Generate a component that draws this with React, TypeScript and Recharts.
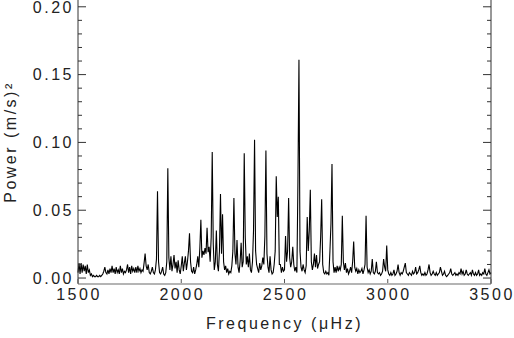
import { LineChart, Line, XAxis, YAxis } from "recharts";

// power spectrum, (m/s)^2, one reading every 5 µHz starting at 1500 µHz
const FREQ_START = 1500;
const FREQ_STEP = 5;

const p1500 = [0.004, 0.011, 0.003, 0.011, 0.004, 0.010, 0.005, 0.009, 0.003, 0.010, 0.004, 0.006, 0.002, 0.003, 0.001, 0.002, 0.001, 0.001, 0.002, 0.001];
const p1600 = [0.001, 0.002, 0.001, 0.002, 0.003, 0.005, 0.008, 0.004, 0.003, 0.006, 0.003, 0.007, 0.004, 0.009, 0.004, 0.007, 0.003, 0.008, 0.004, 0.006];
const p1700 = [0.003, 0.009, 0.004, 0.007, 0.003, 0.005, 0.004, 0.006, 0.010, 0.004, 0.008, 0.003, 0.009, 0.005, 0.007, 0.004, 0.008, 0.004, 0.009, 0.005];
const p1800 = [0.007, 0.004, 0.006, 0.005, 0.011, 0.018, 0.009, 0.006, 0.010, 0.004, 0.003, 0.005, 0.008, 0.004, 0.003, 0.006, 0.014, 0.064, 0.012, 0.004];
const p1900 = [0.003, 0.005, 0.008, 0.003, 0.002, 0.004, 0.012, 0.081, 0.015, 0.006, 0.016, 0.005, 0.010, 0.017, 0.007, 0.012, 0.004, 0.013, 0.006, 0.003];
const p2000 = [0.009, 0.016, 0.005, 0.011, 0.016, 0.006, 0.012, 0.020, 0.033, 0.012, 0.005, 0.004, 0.008, 0.003, 0.006, 0.010, 0.016, 0.008, 0.022, 0.043];
const p2100 = [0.015, 0.020, 0.017, 0.022, 0.018, 0.037, 0.019, 0.023, 0.012, 0.030, 0.093, 0.025, 0.006, 0.012, 0.035, 0.010, 0.005, 0.020, 0.062, 0.018];
const p2200 = [0.047, 0.012, 0.006, 0.009, 0.004, 0.007, 0.003, 0.005, 0.004, 0.009, 0.020, 0.059, 0.018, 0.010, 0.028, 0.008, 0.004, 0.012, 0.026, 0.008];
const p2300 = [0.012, 0.092, 0.030, 0.010, 0.016, 0.008, 0.018, 0.006, 0.004, 0.012, 0.035, 0.102, 0.020, 0.010, 0.007, 0.004, 0.011, 0.006, 0.009, 0.015];
const p2400 = [0.010, 0.031, 0.094, 0.018, 0.008, 0.004, 0.016, 0.006, 0.003, 0.004, 0.010, 0.020, 0.075, 0.045, 0.060, 0.010, 0.010, 0.004, 0.008, 0.005];
const p2500 = [0.006, 0.031, 0.012, 0.020, 0.059, 0.015, 0.008, 0.012, 0.023, 0.010, 0.005, 0.008, 0.004, 0.070, 0.161, 0.020, 0.008, 0.005, 0.010, 0.006];
const p2600 = [0.004, 0.009, 0.045, 0.020, 0.035, 0.065, 0.012, 0.006, 0.010, 0.018, 0.008, 0.017, 0.007, 0.010, 0.012, 0.030, 0.058, 0.010, 0.004, 0.003];
const p2700 = [0.005, 0.003, 0.004, 0.002, 0.020, 0.040, 0.084, 0.012, 0.004, 0.008, 0.004, 0.009, 0.005, 0.008, 0.006, 0.010, 0.046, 0.012, 0.006, 0.011];
const p2800 = [0.004, 0.007, 0.003, 0.005, 0.008, 0.004, 0.012, 0.027, 0.008, 0.005, 0.007, 0.003, 0.006, 0.004, 0.005, 0.007, 0.003, 0.006, 0.010, 0.046];
const p2900 = [0.008, 0.004, 0.006, 0.003, 0.005, 0.014, 0.004, 0.003, 0.005, 0.012, 0.004, 0.003, 0.004, 0.002, 0.003, 0.005, 0.014, 0.008, 0.005, 0.024];
const p3000 = [0.006, 0.003, 0.002, 0.004, 0.002, 0.003, 0.006, 0.002, 0.003, 0.005, 0.010, 0.004, 0.002, 0.004, 0.003, 0.005, 0.008, 0.011, 0.004, 0.003];
const p3100 = [0.002, 0.004, 0.003, 0.002, 0.005, 0.003, 0.004, 0.008, 0.003, 0.004, 0.006, 0.009, 0.004, 0.002, 0.003, 0.002, 0.004, 0.002, 0.003, 0.006];
const p3200 = [0.010, 0.004, 0.002, 0.003, 0.005, 0.003, 0.002, 0.004, 0.002, 0.003, 0.004, 0.008, 0.005, 0.002, 0.003, 0.005, 0.002, 0.001, 0.002, 0.003];
const p3300 = [0.004, 0.007, 0.003, 0.002, 0.003, 0.004, 0.002, 0.003, 0.002, 0.004, 0.003, 0.007, 0.003, 0.005, 0.002, 0.003, 0.006, 0.003, 0.002, 0.003];
const p3400 = [0.004, 0.002, 0.006, 0.003, 0.002, 0.004, 0.002, 0.003, 0.006, 0.002, 0.003, 0.002, 0.004, 0.003, 0.007, 0.003, 0.002, 0.004, 0.006, 0.003, 0.004];

const xTicks = [1500, 2000, 2500, 3000, 3500];
const yTicks = [0, 0.01, 0.02, 0.03, 0.04, 0.05, 0.06, 0.07, 0.08, 0.09, 0.1, 0.11, 0.12, 0.13, 0.14, 0.15, 0.16, 0.17, 0.18, 0.19, 0.2];
const yDomain = [-0.0044, 0.205];

const power = [
  ...p1500, ...p1600, ...p1700, ...p1800, ...p1900,
  ...p2000, ...p2100, ...p2200, ...p2300, ...p2400,
  ...p2500, ...p2600, ...p2700, ...p2800, ...p2900,
  ...p3000, ...p3100, ...p3200, ...p3300, ...p3400,
];
const data = power.map((p, i) => ({ freq: FREQ_START + i * FREQ_STEP, p }));

const FONT = "'Liberation Sans', Arial, Helvetica, sans-serif";
const TEXT = "#222";

const isMajor = (v: number) => Math.abs(v * 20 - Math.round(v * 20)) < 1e-6;

function LeftTick({ x, y, payload }: any) {
  const major = isMajor(payload.value);
  return (
    <g>
      <line x1={x} x2={x + (major ? 8 : 4)} y1={y} y2={y} stroke="#333" />
      {major && (
        <text x={x - 4} y={y} dy="0.36em" textAnchor="end" fontSize={16} letterSpacing={2.5} fill={TEXT} fontFamily={FONT}>
          {payload.value.toFixed(2)}
        </text>
      )}
    </g>
  );
}

function RightTick({ x, y, payload }: any) {
  const major = isMajor(payload.value);
  return <line x1={x} x2={x - (major ? 8 : 4)} y1={y} y2={y} stroke="#333" />;
}

function BottomTick({ x, y, payload }: any) {
  return (
    <g>
      <line x1={x} x2={x} y1={y - 1} y2={y - 5} stroke="#555" />
      <text x={x + 1} y={y + 10} dy="0.36em" textAnchor="middle" fontSize={16} letterSpacing={2.5} fill={TEXT} fontFamily={FONT}>
        {payload.value}
      </text>
    </g>
  );
}

export default function App() {
  return (
    <div style={{ position: "absolute", left: 0, top: 0, width: 514, height: 338, background: "#fff" }}>
      <LineChart width={514} height={338} data={data} margin={{ top: 0, right: 0, bottom: 0, left: 0 }}>
        <XAxis
          dataKey="freq"
          type="number"
          domain={[1500, 3500]}
          ticks={xTicks}
          height={54}
          tickSize={0}
          tickMargin={0}
          tickLine={false}
          axisLine={{ stroke: "#b4b4b4", strokeWidth: 2 }}
          tick={<BottomTick />}
          interval={0}
        />
        <YAxis
          yAxisId="left"
          type="number"
          domain={yDomain}
          allowDataOverflow
          ticks={yTicks}
          width={78}
          tickSize={0}
          tickMargin={0}
          tickLine={false}
          axisLine={{ stroke: "#333" }}
          tick={<LeftTick />}
          interval={0}
        />
        <YAxis
          yAxisId="right"
          orientation="right"
          type="number"
          domain={yDomain}
          allowDataOverflow
          ticks={yTicks}
          width={23}
          tickSize={0}
          tickMargin={0}
          tickLine={false}
          axisLine={{ stroke: "#333" }}
          tick={<RightTick />}
          interval={0}
        />
        <Line
          yAxisId="left"
          dataKey="p"
          type="linear"
          stroke="#000"
          strokeWidth={1.1}
          dot={false}
          isAnimationActive={false}
        />
      </LineChart>
      <div
        style={{
          position: "absolute",
          left: 78,
          width: 413,
          top: 314,
          textAlign: "center",
          fontFamily: FONT,
          fontSize: 16,
          letterSpacing: 2.5,
          color: TEXT,
          lineHeight: "20px",
        }}
      >
        Frequency (μHz)
      </div>
      <div
        style={{
          position: "absolute",
          left: 11,
          top: 142,
          transform: "translate(-50%, -50%) rotate(-90deg)",
          whiteSpace: "nowrap",
          fontFamily: FONT,
          fontSize: 16,
          letterSpacing: 2.5,
          color: TEXT,
          lineHeight: "20px",
        }}
      >
        Power (m/s)²
      </div>
    </div>
  );
}
